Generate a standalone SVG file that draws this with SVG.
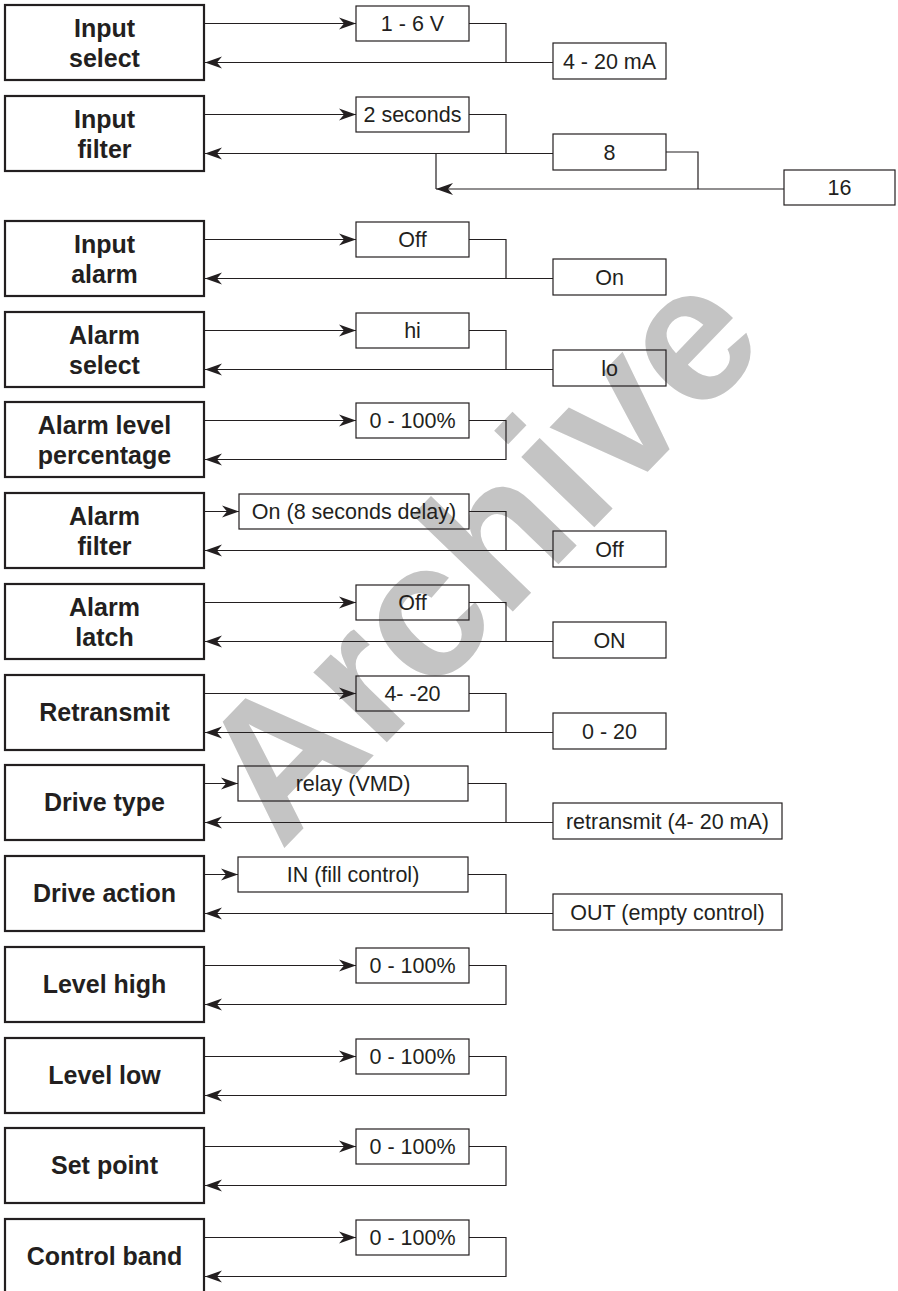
<svg xmlns="http://www.w3.org/2000/svg" width="898" height="1291" viewBox="0 0 898 1291">
<style>
.node{fill:none;stroke:#231f20;stroke-width:2.2}
.opt{fill:none;stroke:#231f20;stroke-width:1.2}
.ln{fill:none;stroke:#231f20;stroke-width:1.2}
.nt{font-family:"Liberation Sans",Arial,sans-serif;font-weight:bold;font-size:25px;fill:#231f20;text-anchor:middle}
.ot{font-family:"Liberation Sans",Arial,sans-serif;font-size:21.5px;fill:#231f20;text-anchor:middle}
.wm{font-family:"Liberation Sans",Arial,sans-serif;font-weight:bold;font-size:192px;fill:#c4c4c4;text-anchor:middle}
</style>
<defs>
<marker id="ah" markerUnits="userSpaceOnUse" markerWidth="20" markerHeight="14" refX="17" refY="6.5" orient="auto" overflow="visible">
<path d="M0,0.5 L17,6.5 L0,12.5 L5,6.5 Z" fill="#231f20"/>
</marker>
</defs>
<rect width="898" height="1291" fill="#fff"/>
<text class="wm" transform="translate(484,558) rotate(-46)" x="0" y="58">Archive</text>

<g id="connectors">
<line class="ln" x1="204" y1="23.5" x2="356" y2="23.5" marker-end="url(#ah)"/>
<polyline class="ln" points="469,23.5 506,23.5 506,62.5"/>
<line class="ln" x1="553" y1="62.5" x2="205" y2="62.5" marker-end="url(#ah)"/>
<line class="ln" x1="204" y1="114.5" x2="356" y2="114.5" marker-end="url(#ah)"/>
<polyline class="ln" points="469,114.5 506,114.5 506,153.5"/>
<line class="ln" x1="553" y1="153.5" x2="205" y2="153.5" marker-end="url(#ah)"/>
<polyline class="ln" points="666,152 698,152 698,189"/>
<line class="ln" x1="436" y1="153.5" x2="436" y2="189"/>
<line class="ln" x1="784" y1="189" x2="436" y2="189" marker-end="url(#ah)"/>
<line class="ln" x1="204" y1="239.5" x2="356" y2="239.5" marker-end="url(#ah)"/>
<polyline class="ln" points="469,239.5 506,239.5 506,278.5"/>
<line class="ln" x1="553" y1="278.5" x2="205" y2="278.5" marker-end="url(#ah)"/>
<line class="ln" x1="204" y1="330.5" x2="356" y2="330.5" marker-end="url(#ah)"/>
<polyline class="ln" points="469,330.5 506,330.5 506,369.5"/>
<line class="ln" x1="553" y1="369.5" x2="205" y2="369.5" marker-end="url(#ah)"/>
<line class="ln" x1="204" y1="420.5" x2="356" y2="420.5" marker-end="url(#ah)"/>
<polyline class="ln" points="469,420.5 506,420.5 506,459.5 205,459.5" marker-end="url(#ah)"/>
<line class="ln" x1="204" y1="511.5" x2="239" y2="511.5" marker-end="url(#ah)"/>
<polyline class="ln" points="469,511.5 506,511.5 506,550.5"/>
<line class="ln" x1="553" y1="550.5" x2="205" y2="550.5" marker-end="url(#ah)"/>
<line class="ln" x1="204" y1="602.5" x2="356" y2="602.5" marker-end="url(#ah)"/>
<polyline class="ln" points="469,602.5 506,602.5 506,641.5"/>
<line class="ln" x1="553" y1="641.5" x2="205" y2="641.5" marker-end="url(#ah)"/>
<line class="ln" x1="204" y1="693.5" x2="356" y2="693.5" marker-end="url(#ah)"/>
<polyline class="ln" points="469,693.5 506,693.5 506,732.5"/>
<line class="ln" x1="553" y1="732.5" x2="205" y2="732.5" marker-end="url(#ah)"/>
<line class="ln" x1="204" y1="783.5" x2="238" y2="783.5" marker-end="url(#ah)"/>
<polyline class="ln" points="468,783.5 506,783.5 506,822.5"/>
<line class="ln" x1="553" y1="822.5" x2="205" y2="822.5" marker-end="url(#ah)"/>
<line class="ln" x1="204" y1="874.5" x2="238" y2="874.5" marker-end="url(#ah)"/>
<polyline class="ln" points="468,874.5 506,874.5 506,913.5"/>
<line class="ln" x1="553" y1="913.5" x2="205" y2="913.5" marker-end="url(#ah)"/>
<line class="ln" x1="204" y1="965.5" x2="356" y2="965.5" marker-end="url(#ah)"/>
<polyline class="ln" points="469,965.5 506,965.5 506,1004.5 205,1004.5" marker-end="url(#ah)"/>
<line class="ln" x1="204" y1="1056.5" x2="356" y2="1056.5" marker-end="url(#ah)"/>
<polyline class="ln" points="469,1056.5 506,1056.5 506,1095.5 205,1095.5" marker-end="url(#ah)"/>
<line class="ln" x1="204" y1="1146.5" x2="356" y2="1146.5" marker-end="url(#ah)"/>
<polyline class="ln" points="469,1146.5 506,1146.5 506,1185.5 205,1185.5" marker-end="url(#ah)"/>
<line class="ln" x1="204" y1="1237.5" x2="356" y2="1237.5" marker-end="url(#ah)"/>
<polyline class="ln" points="469,1237.5 506,1237.5 506,1276.5 205,1276.5" marker-end="url(#ah)"/>
</g>

<g id="input-select"><rect class="node" x="5" y="5" width="199" height="75"/><text class="nt" x="104.5" y="37">Input</text><text class="nt" x="104.5" y="67">select</text></g>
<g id="opt-1-6v"><rect class="opt" x="356" y="6" width="113" height="35"/><text class="ot" x="412.5" y="31">1 - 6 V</text></g>
<g id="opt-4-20ma"><rect class="opt" x="553" y="43" width="113" height="36"/><text class="ot" x="609.5" y="68.5">4 - 20 mA</text></g>

<g id="input-filter"><rect class="node" x="5" y="96" width="199" height="75"/><text class="nt" x="104.5" y="128">Input</text><text class="nt" x="104.5" y="158">filter</text></g>
<g id="opt-2s"><rect class="opt" x="356" y="97" width="113" height="35"/><text class="ot" x="412.5" y="122">2 seconds</text></g>
<g id="opt-8"><rect class="opt" x="553" y="134" width="113" height="36"/><text class="ot" x="609.5" y="159.5">8</text></g>
<g id="opt-16"><rect class="opt" x="784" y="170" width="111" height="35"/><text class="ot" x="839.5" y="195">16</text></g>

<g id="input-alarm"><rect class="node" x="5" y="221" width="199" height="75"/><text class="nt" x="104.5" y="253">Input</text><text class="nt" x="104.5" y="283">alarm</text></g>
<g id="opt-ia-off"><rect class="opt" x="356" y="222" width="113" height="35"/><text class="ot" x="412.5" y="247">Off</text></g>
<g id="opt-ia-on"><rect class="opt" x="553" y="259" width="113" height="36"/><text class="ot" x="609.5" y="284.5">On</text></g>

<g id="alarm-select"><rect class="node" x="5" y="312" width="199" height="75"/><text class="nt" x="104.5" y="344">Alarm</text><text class="nt" x="104.5" y="374">select</text></g>
<g id="opt-hi"><rect class="opt" x="356" y="313" width="113" height="35"/><text class="ot" x="412.5" y="338">hi</text></g>
<g id="opt-lo"><rect class="opt" x="553" y="350" width="113" height="36"/><text class="ot" x="609.5" y="375.5">lo</text></g>

<g id="alarm-level"><rect class="node" x="5" y="402" width="199" height="75"/><text class="nt" x="104.5" y="434">Alarm level</text><text class="nt" x="104.5" y="464">percentage</text></g>
<g id="opt-al-pct"><rect class="opt" x="356" y="403" width="113" height="35"/><text class="ot" x="412.5" y="428">0 - 100%</text></g>

<g id="alarm-filter"><rect class="node" x="5" y="493" width="199" height="75"/><text class="nt" x="104.5" y="525">Alarm</text><text class="nt" x="104.5" y="555">filter</text></g>
<g id="opt-af-on"><rect class="opt" x="239" y="494" width="230" height="35"/><text class="ot" x="354" y="519">On (8 seconds delay)</text></g>
<g id="opt-af-off"><rect class="opt" x="553" y="531" width="113" height="36"/><text class="ot" x="609.5" y="556.5">Off</text></g>

<g id="alarm-latch"><rect class="node" x="5" y="584" width="199" height="75"/><text class="nt" x="104.5" y="616">Alarm</text><text class="nt" x="104.5" y="646">latch</text></g>
<g id="opt-latch-off"><rect class="opt" x="356" y="585" width="113" height="35"/><text class="ot" x="412.5" y="610">Off</text></g>
<g id="opt-latch-on"><rect class="opt" x="553" y="622" width="113" height="36"/><text class="ot" x="609.5" y="647.5">ON</text></g>

<g id="retransmit"><rect class="node" x="5" y="675" width="199" height="75"/><text class="nt" x="104.5" y="721">Retransmit</text></g>
<g id="opt-4-20"><rect class="opt" x="356" y="676" width="113" height="35"/><text class="ot" x="412.5" y="701">4- -20</text></g>
<g id="opt-0-20"><rect class="opt" x="553" y="713" width="113" height="36"/><text class="ot" x="609.5" y="738.5">0 - 20</text></g>

<g id="drive-type"><rect class="node" x="5" y="765" width="199" height="75"/><text class="nt" x="104.5" y="811">Drive type</text></g>
<g id="opt-relay"><rect class="opt" x="238" y="766" width="230" height="35"/><text class="ot" x="353" y="791">relay (VMD)</text></g>
<g id="opt-retrans"><rect class="opt" x="553" y="803" width="229" height="36"/><text class="ot" x="667.5" y="828.5">retransmit (4- 20 mA)</text></g>

<g id="drive-action"><rect class="node" x="5" y="856" width="199" height="75"/><text class="nt" x="104.5" y="902">Drive action</text></g>
<g id="opt-in"><rect class="opt" x="238" y="857" width="230" height="35"/><text class="ot" x="353" y="882">IN (fill control)</text></g>
<g id="opt-out"><rect class="opt" x="553" y="894" width="229" height="36"/><text class="ot" x="667.5" y="919.5">OUT (empty control)</text></g>

<g id="level-high"><rect class="node" x="5" y="947" width="199" height="75"/><text class="nt" x="104.5" y="993">Level high</text></g>
<g id="opt-lh"><rect class="opt" x="356" y="948" width="113" height="35"/><text class="ot" x="412.5" y="973">0 - 100%</text></g>

<g id="level-low"><rect class="node" x="5" y="1038" width="199" height="75"/><text class="nt" x="104.5" y="1084">Level low</text></g>
<g id="opt-ll"><rect class="opt" x="356" y="1039" width="113" height="35"/><text class="ot" x="412.5" y="1064">0 - 100%</text></g>

<g id="set-point"><rect class="node" x="5" y="1128" width="199" height="75"/><text class="nt" x="104.5" y="1174">Set point</text></g>
<g id="opt-sp"><rect class="opt" x="356" y="1129" width="113" height="35"/><text class="ot" x="412.5" y="1154">0 - 100%</text></g>

<g id="control-band"><rect class="node" x="5" y="1219" width="199" height="80"/><text class="nt" x="104.5" y="1265">Control band</text></g>
<g id="opt-cb"><rect class="opt" x="356" y="1220" width="113" height="35"/><text class="ot" x="412.5" y="1245">0 - 100%</text></g>
</svg>
